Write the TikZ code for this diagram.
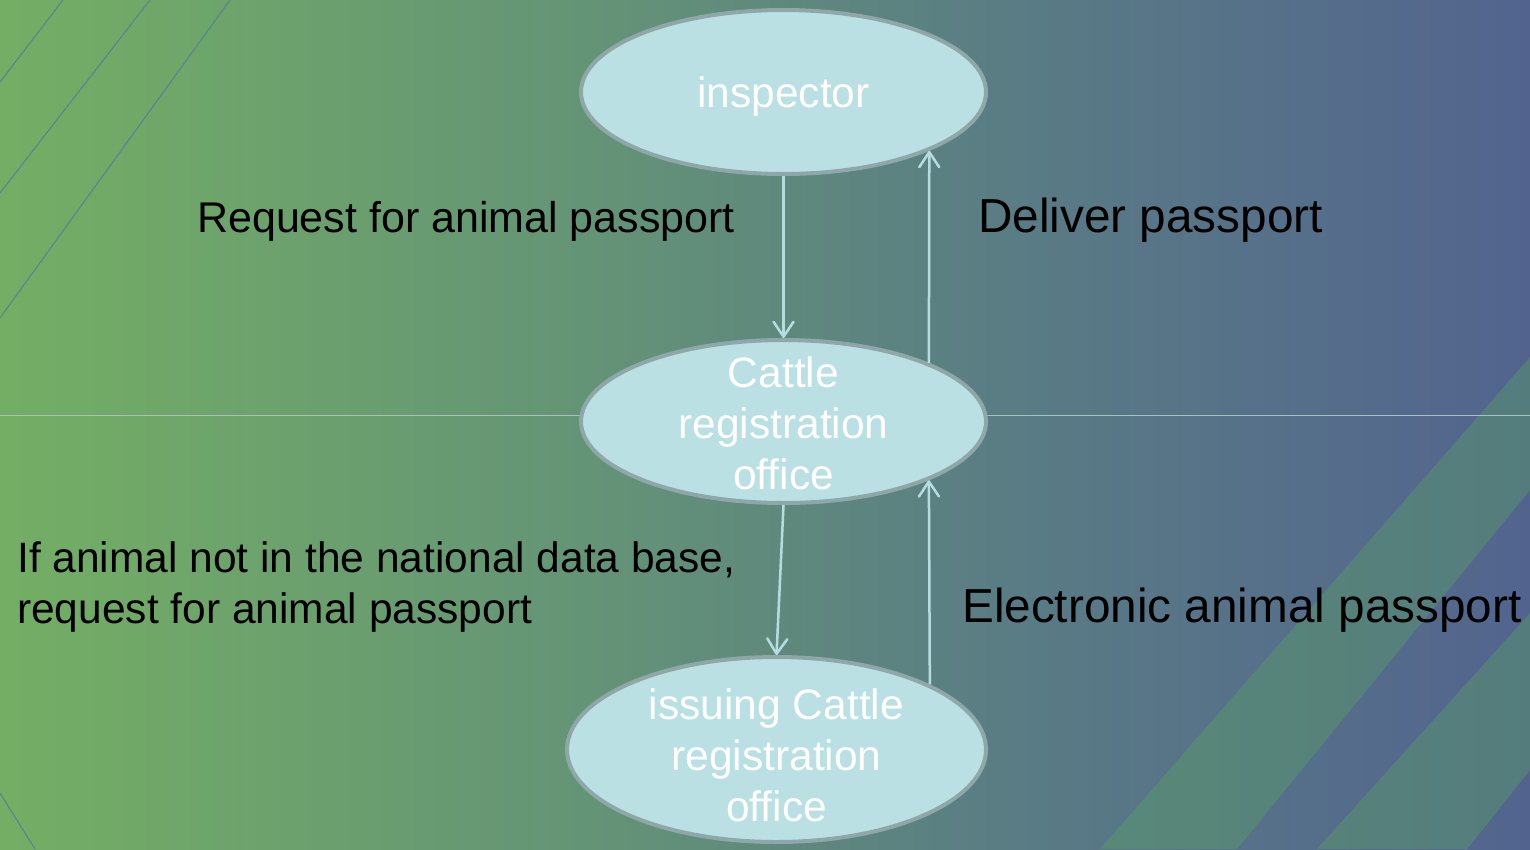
\documentclass[tikz,border=0pt]{standalone}
\usepackage{fontspec}
\setmainfont{Liberation Sans}
\usetikzlibrary{shapes.geometric,arrows.meta}
\definecolor{bgA}{RGB}{116,174,100}
\definecolor{bgB}{RGB}{100,148,118}
\definecolor{bgC}{RGB}{90,125,132}
\definecolor{bgD}{RGB}{82,100,142}
\definecolor{stripe}{RGB}{90,170,95}
\definecolor{diag}{RGB}{90,135,140}
\definecolor{hline}{RGB}{165,195,190}
\definecolor{ellfill}{RGB}{186,224,227}
\definecolor{elldraw}{RGB}{142,167,168}
\definecolor{arrowc}{RGB}{181,221,224}
\pgfdeclarehorizontalshading{bgshade}{100bp}{color(0bp)=(bgA); color(25bp)=(bgA); color(44bp)=(bgB); color(57.5bp)=(bgC); color(75bp)=(bgD); color(100bp)=(bgD)}
\begin{document}
\begin{tikzpicture}[x=1pt,y=-1pt,
  ellnode/.style={ellipse, draw=elldraw, line width=4pt, fill=ellfill, inner sep=0pt},
  elltext/.style={text=white, font=\fontsize{42.5}{51}\selectfont, align=center, inner sep=0pt},
  flow/.style={draw=arrowc, line width=2.5pt, -{Straight Barb[length=15pt,width=20pt,round]}},
  caption/.style={text=black, inner sep=0pt},
  deco/.style={draw=diag, line width=1.2pt},
]
\useasboundingbox (0,0) rectangle (1530,849);
\shade[shading=bgshade] (0,0) rectangle (1530,849);
% background decorations
\fill[stripe, opacity=0.35] (1100,849) -- (1530,357) -- (1530,490) -- (1237,849) -- cycle;
\fill[stripe, opacity=0.35] (1317,849) -- (1530,613) -- (1530,770) -- (1467,849) -- cycle;
\draw[deco] (0,82) -- (63,0);
\draw[deco] (0,193) -- (150,0);
\draw[deco] (0,318) -- (230,0);
\draw[deco] (0,793) -- (35,849);
\draw[hline, line width=1pt] (0,415) -- (1530,415);
% nodes
\node[ellnode, minimum width=405pt, minimum height=164pt,
  label={[elltext, yshift=-5pt]center:inspector}] (insp) at (783.5,92) {};
\node[ellnode, minimum width=405pt, minimum height=163pt,
  label={[elltext, yshift=-2pt]center:Cattle\\registration\\office}] (cattle) at (783.5,421.5) {};
\node[ellnode, minimum width=419pt, minimum height=185pt,
  label={[elltext, yshift=-6pt]center:issuing Cattle\\registration\\office}] (issue) at (776.5,749.5) {};
% connectors
\draw[flow] (insp.south) -- (cattle.north);
\draw[flow] (cattle.22.6) -- (insp.-22.4);
\draw[flow] (cattle.south) -- (issue.north);
\draw[flow] (issue.23.5) -- (cattle.-22.4);
% captions
\node[caption, anchor=base west, font=\fontsize{43}{51}\selectfont] (req) at (197,232) {Request for animal passport};
\node[caption, anchor=base west, font=\fontsize{47.7}{57}\selectfont] (del) at (978,232) {Deliver passport};
\node[caption, anchor=base west, font=\fontsize{47.7}{57}\selectfont] (elec) at (962,622) {Electronic animal passport};
\node[caption, anchor=north west, align=left, font=\fontsize{42.5}{51}\selectfont] (ifan) at (17,541) {If animal not in the national data base,\\request for animal passport};
\end{tikzpicture}
\end{document}
